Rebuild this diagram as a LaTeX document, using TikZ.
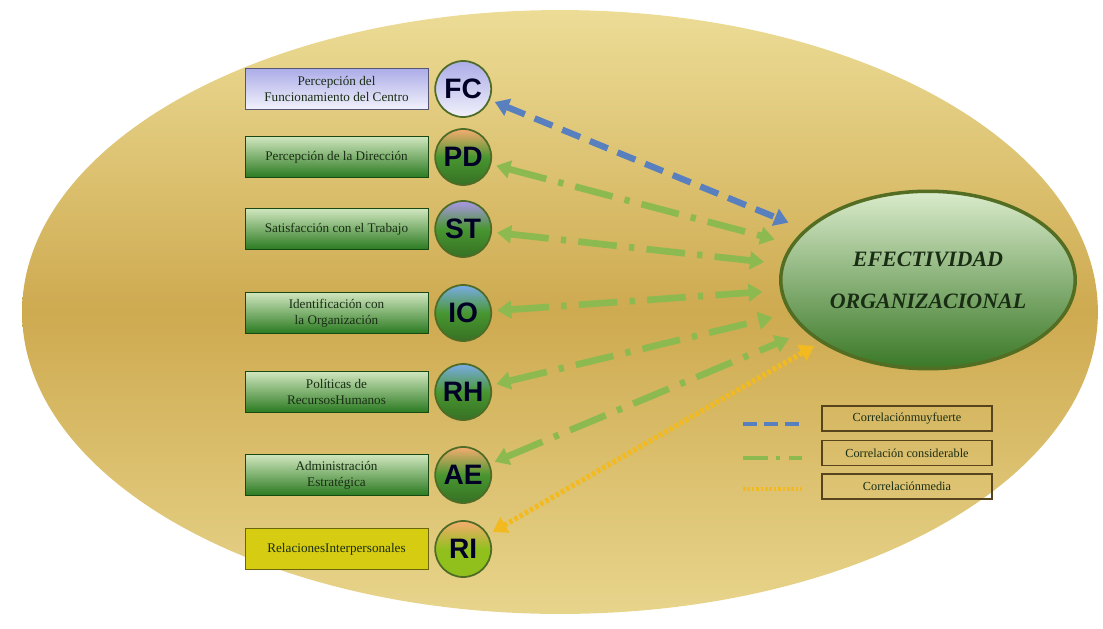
\documentclass[tikz,border=0pt]{standalone}
\usepackage{fontspec}
\setmainfont{Liberation Serif}
\setsansfont{Liberation Sans}
\usepackage{xcolor}
\usetikzlibrary{shapes.geometric,arrows.meta,positioning}

\definecolor{goldlight}{RGB}{236,220,150}
\definecolor{golddark}{RGB}{206,170,80}
\definecolor{boxtop}{RGB}{208,230,190}
\definecolor{boxbot}{RGB}{42,122,32}
\definecolor{lavtop}{RGB}{172,172,232}
\definecolor{lavbot}{RGB}{242,242,252}
\definecolor{riyellow}{RGB}{214,204,18}
\definecolor{ballgreen}{RGB}{72,150,48}
\definecolor{hlpurple}{RGB}{172,150,232}
\definecolor{hlorange}{RGB}{246,172,112}
\definecolor{hlblue}{RGB}{122,172,232}
\definecolor{rimgreen}{RGB}{78,108,38}
\definecolor{txtdark}{RGB}{25,45,20}
\definecolor{arrblue}{RGB}{88,128,190}
\definecolor{arrgreen}{RGB}{140,186,80}
\definecolor{arryellow}{RGB}{242,186,30}
\definecolor{legbrown}{RGB}{88,68,28}

\begin{document}
\begin{tikzpicture}[
    x=0.02cm, y=-0.02cm,
    fbox/.style={rectangle, draw=boxbot!60!black, top color=boxtop, bottom color=boxbot, align=center, minimum height=0.82cm, minimum width=3.66cm, inner sep=1pt, text=txtdark, font=\fontsize{7.5}{9}\selectfont},
    ball/.style={circle, draw=rimgreen, line width=1pt, minimum size=1.12cm, inner sep=0pt, top color=#1, bottom color=ballgreen!75!black, middle color=ballgreen, text=black!85!blue, font=\sffamily\bfseries\fontsize{16}{16}\selectfont},
    ball/.default=hlorange,
    efect/.style={ellipse, draw=rimgreen!90!olive, line width=2pt, top color=boxtop!80!white, bottom color=ballgreen!80!black, minimum width=5.4cm, minimum height=3.55cm, align=center, text=txtdark, font=\bfseries\itshape\fontsize{12.5}{24}\selectfont},
    legbox/.style={rectangle, draw=legbrown, thick, minimum width=3.4cm, minimum height=0.5cm, inner sep=1pt, text=txtdark, font=\fontsize{7}{8}\selectfont},
    fuerte/.style={draw=arrblue, line width=3.6pt, dash pattern=on 11pt off 6pt},
    consid/.style={draw=arrgreen, line width=3.8pt, dash pattern=on 22pt off 7pt on 3pt off 7pt},
    media/.style={draw=arryellow, line width=3pt, dash pattern=on 2pt off 1.4pt},
    tips/.style={{Triangle[length=8pt,width=10pt]}-{Triangle[length=8pt,width=10pt]}, shorten <=3pt, shorten >=10pt}
]
    \useasboundingbox (0,0) rectangle (1103,629);

    % fondo
    \shade [top color=goldlight, bottom color=goldlight!85!golddark, middle color=golddark] (560,312) ellipse [x radius=10.76cm, y radius=6.04cm];

    % factores
    \node [fbox, top color=lavtop, bottom color=lavbot, draw=lavtop!50!black] (fcbox) at (336.5,89) {Percepción del\\Funcionamiento del Centro};
    \node [fbox] (pdbox) at (336.5,157) {Percepción de la Dirección};
    \node [fbox] (stbox) at (336.5,229) {Satisfacción con el Trabajo};
    \node [fbox] (iobox) at (336.5,313) {Identificación con\\la Organización};
    \node [fbox] (rhbox) at (336.5,392) {Políticas de\\RecursosHumanos};
    \node [fbox] (aebox) at (336.5,475) {Administración\\Estratégica};
    \node [fbox, top color=riyellow, bottom color=riyellow, draw=riyellow!50!black] (ribox) at (336.5,549) {RelacionesInterpersonales};

    \node [ball=lavtop, bottom color=lavbot, middle color=lavtop!60!white, right=0.12cm of fcbox] (fc) {FC};
    \node [ball, right=0.12cm of pdbox] (pd) {PD};
    \node [ball=hlpurple, right=0.12cm of stbox] (st) {ST};
    \node [ball=hlblue, right=0.12cm of iobox] (io) {IO};
    \node [ball=hlblue, right=0.12cm of rhbox] (rh) {RH};
    \node [ball, right=0.12cm of aebox] (ae) {AE};
    \node [ball, bottom color=ballgreen!60!yellow, middle color=ballgreen!60!yellow, right=0.12cm of ribox] (ri) {RI};

    \node [efect] (eo) at (928,280) {EFECTIVIDAD\\ORGANIZACIONAL};

    % relaciones
    \draw [fuerte, tips] (fc) -- (eo);
    \draw [consid, tips] (pd) -- (eo);
    \draw [consid, tips] (st) -- (eo);
    \draw [consid, tips] (io) -- (eo);
    \draw [consid, tips] (rh) -- (eo);
    \draw [consid, tips] (ae) -- (eo);
    \draw [media, tips, shorten >=4pt] (ri) -- (eo);

    % leyenda
    \node [legbox] (leg1) at (907,418.5) {Correlaciónmuyfuerte};
    \node [legbox, below=0.16cm of leg1] (leg2) {Correlación considerable};
    \node [legbox, below=0.14cm of leg2] (leg3) {Correlaciónmedia};
    \draw [fuerte, line width=2pt, dash pattern=on 8pt off 4pt] (743,424) -- (802,424);
    \draw [consid, line width=2pt, dash pattern=on 14pt off 5pt on 2pt off 5pt] (743,458) -- (802,458);
    \draw [media, line width=2pt, dash pattern=on 1.5pt off 1pt] (743,489) -- (802,489);
\end{tikzpicture}
\end{document}
